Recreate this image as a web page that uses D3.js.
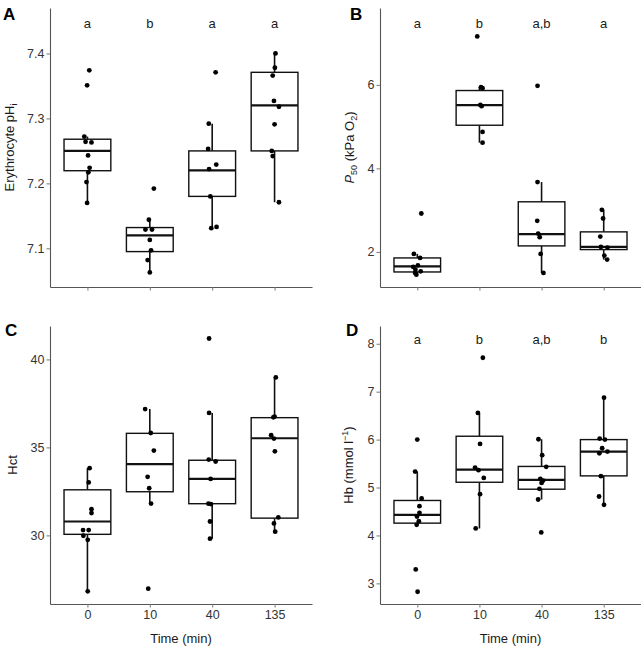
<!DOCTYPE html>
<html>
<head>
<meta charset="utf-8">
<script src="https://cdn.jsdelivr.net/npm/d3@7"></script>
<style>
  body { margin: 0; background: #fff; }
  svg { display: block; }
  text { font-family: "Liberation Sans", Arial, sans-serif; }
</style>
</head>
<body>
<svg id="chart" width="641" height="647"></svg>
<script>
// ---------------- DATA ----------------
const categories = ["0", "10", "40", "135"];

// Panel A: Erythrocyte pHi
const ticksA = [7.1, 7.2, 7.3, 7.4];
const lettersA = ["a", "b", "a", "a"];
const boxA = [ // [whiskerLow, q1, median, q3, whiskerHigh]
  [7.170, 7.2195, 7.250, 7.268, 7.272],
  [7.063, 7.095, 7.120, 7.132, 7.144],
  [7.131, 7.180, 7.220, 7.250, 7.292],
  [7.171, 7.250, 7.320, 7.371, 7.400]
];
const pointsA = [
  [7.374, 7.351, 7.272, 7.264, 7.263, 7.243, 7.224, 7.217, 7.202, 7.170],
  [7.192, 7.144, 7.129, 7.129, 7.113, 7.097, 7.082, 7.063],
  [7.371, 7.292, 7.253, 7.229, 7.222, 7.180, 7.131, 7.133],
  [7.400, 7.378, 7.366, 7.327, 7.318, 7.291, 7.250, 7.242, 7.171]
];
const jitterA = [
  [0.03, -0.005, -0.05, -0.03, 0.065, 0.01, 0.035, 0.015, -0.015, -0.005],
  [0.065, -0.015, -0.07, 0.035, 0, 0.02, -0.035, 0],
  [0.055, -0.055, -0.065, 0.065, -0.05, -0.03, -0.015, 0.07],
  [0.015, 0.005, -0.03, -0.01, 0.07, 0, -0.045, -0.03, 0.07]
];

// Panel B: P50 (kPa O2)
const ticksB = [2, 4, 6];
const lettersB = ["a", "b", "a,b", "a"];
const boxB = [
  [1.456, 1.520, 1.656, 1.856, 1.952],
  [4.616, 5.033, 5.513, 5.864, 5.945],
  [1.496, 2.144, 2.424, 3.200, 3.672],
  [1.816, 2.056, 2.120, 2.480, 3.008]
];
const pointsB = [
  [2.92, 1.952, 1.856, 1.68, 1.64, 1.576, 1.536, 1.496, 1.456],
  [7.16, 5.945, 5.92, 5.52, 5.49, 4.873, 4.616],
  [5.976, 3.672, 2.744, 2.44, 2.352, 1.952, 1.496],
  [3.008, 2.80, 2.368, 2.12, 2.104, 1.912, 1.816]
];
const jitterB = [
  [0.065, -0.055, 0.045, 0.01, -0.065, -0.03, 0.055, -0.035, -0.015],
  [-0.035, 0.025, 0.05, 0.015, 0.035, 0.05, 0.05],
  [-0.065, -0.065, -0.07, -0.055, -0.03, -0.015, 0.03],
  [-0.03, -0.01, -0.055, -0.045, 0.06, 0.01, 0.055]
];

// Panel C: Hct
const ticksC = [30, 35, 40];
const boxC = [
  [26.82, 30.06, 30.79, 32.59, 33.82],
  [31.81, 32.48, 34.05, 35.80, 37.18],
  [29.81, 31.80, 33.21, 34.27, 36.96],
  [30.21, 30.98, 35.52, 36.69, 38.98]
];
const pointsC = [
  [33.82, 33.01, 31.49, 31.27, 30.30, 30.30, 29.98, 29.75, 26.82],
  [37.18, 35.82, 34.82, 33.33, 32.68, 31.81, 26.97],
  [41.19, 36.96, 34.31, 34.20, 33.21, 31.80, 31.78, 30.79, 29.81],
  [38.98, 36.75, 36.71, 35.69, 35.50, 34.78, 31.02, 30.68, 30.21]
];
const jitterC = [
  [0.035, 0.02, 0.065, 0.065, -0.07, 0.02, -0.065, 0.005, 0.005],
  [-0.075, 0.015, 0.065, -0.035, -0.01, 0.02, -0.025],
  [-0.05, -0.05, -0.055, 0.055, -0.025, -0.06, -0.02, -0.035, -0.035],
  [0.02, 0, -0.02, -0.055, -0.01, 0.005, 0.06, -0.01, 0.01]
];

// Panel D: Hb (mmol l-1)
const ticksD = [3, 4, 5, 6, 7, 8];
const lettersD = ["a", "b", "a,b", "b"];
const boxD = [
  [4.222, 4.257, 4.430, 4.730, 5.333],
  [4.146, 5.110, 5.375, 6.070, 6.556],
  [4.750, 4.965, 5.160, 5.440, 6.007],
  [4.639, 5.243, 5.750, 6.000, 6.875]
];
const pointsD = [
  [6.00, 5.333, 4.771, 4.611, 4.472, 4.396, 4.299, 4.222, 3.292, 2.826],
  [7.708, 6.556, 5.91, 5.417, 5.361, 5.201, 4.861, 4.146],
  [6.007, 5.674, 5.431, 5.181, 5.146, 5.097, 4.972, 4.75, 4.063],
  [6.875, 6.021, 6.00, 5.819, 5.75, 5.715, 5.236, 4.813, 4.639]
];
const jitterD = [
  [0, -0.035, 0.07, 0.035, 0.035, -0.005, 0.025, -0.01, -0.025, 0.005],
  [0.055, -0.025, 0.01, -0.07, -0.015, 0.07, 0.01, -0.06],
  [-0.05, 0.01, 0.075, -0.02, 0.025, 0, -0.035, -0.055, -0.005],
  [0.005, -0.065, 0.02, -0.025, 0.06, -0.07, -0.045, -0.075, 0.005]
];

const xTitle = "Time (min)";

// ---------------- DRAWING ----------------
const svg = d3.select("#chart");
const TICK_COL = "#333333";
const AXIS_COL = "#555";

const panels = [
  { tag: "A", x0: 50, x1: 312, y0: 8, y1: 287, domain: [7.0405, 7.47], ticks: ticksA, fmt: d3.format(".1f"),
    box: boxA, pts: pointsA, jit: jitterA, letters: lettersA, letterY: 7.446, xLabels: false,
    tagX: 3, tagY: 20, titleX: 9, title: "A" },
  { tag: "B", x0: 380, x1: 641, y0: 8, y1: 287, domain: [1.16, 7.84], ticks: ticksB, fmt: d3.format("d"),
    box: boxB, pts: pointsB, jit: jitterB, letters: lettersB, letterY: 7.48, xLabels: false,
    tagX: 350, tagY: 19.5, titleX: 349, title: "B" },
  { tag: "C", x0: 50, x1: 312, y0: 326, y1: 604, domain: [26.1, 41.9], ticks: ticksC, fmt: d3.format("d"),
    box: boxC, pts: pointsC, jit: jitterC, letters: null, xLabels: true,
    tagX: 5, tagY: 336, titleX: 12.5, title: "C" },
  { tag: "D", x0: 380, x1: 641, y0: 326, y1: 604, domain: [2.57, 8.37], ticks: ticksD, fmt: d3.format("d"),
    box: boxD, pts: pointsD, jit: jitterD, letters: lettersD, letterY: 8.08, xLabels: true,
    tagX: 346, tagY: 336, titleX: 348, title: "D" }
];

function yTitle(g, tag) {
  if (tag === "A") {
    g.append("tspan").text("Erythrocyte pH");
    g.append("tspan").attr("font-size", "9px").attr("dy", "3").text("i");
  } else if (tag === "B") {
    g.append("tspan").attr("font-style", "italic").text("P");
    g.append("tspan").attr("font-size", "9px").attr("dy", "3").text("50");
    g.append("tspan").attr("dy", "-3").text(" (kPa O");
    g.append("tspan").attr("font-size", "9px").attr("dy", "3").text("2");
    g.append("tspan").attr("dy", "-3").text(")");
  } else if (tag === "C") {
    g.append("tspan").text("Hct");
  } else {
    g.append("tspan").text("Hb (mmol l");
    g.append("tspan").attr("font-size", "9px").attr("dy", "-5").text("\u22121");
    g.append("tspan").attr("dy", "5").text(")");
  }
}

panels.forEach(p => {
  const x = d3.scalePoint().domain(categories).range([p.x0, p.x1]).padding(0.6);
  const y = d3.scaleLinear().domain(p.domain).range([p.y1, p.y0]);
  const bw = x.step() * 0.75;
  const g = svg.append("g");

  // Axes
  const yAxis = d3.axisLeft(y).tickValues(p.ticks).tickFormat(p.fmt).tickSize(3.5).tickSizeOuter(0).tickPadding(2);
  const ya = g.append("g").attr("transform", `translate(${p.x0},0)`).call(yAxis);
  const xAxis = d3.axisBottom(x).tickSize(3.5).tickSizeOuter(0).tickPadding(3);
  if (!p.xLabels) xAxis.tickFormat("");
  const xa = g.append("g").attr("transform", `translate(0,${p.y1})`).call(xAxis);
  [ya, xa].forEach(a => {
    a.select(".domain").attr("stroke", AXIS_COL).attr("stroke-width", 1.1);
    a.selectAll(".tick line").attr("stroke", "#777").attr("stroke-width", 1);
    a.selectAll(".tick text").attr("fill", TICK_COL).attr("font-size", "12.5px")
      .style("font-family", '"Liberation Sans", Arial, sans-serif');
  });

  // Boxplots
  const bg = g.append("g");
  p.box.forEach((b, i) => {
    const cx = x(categories[i]);
    const [lo, q1, med, q3, hi] = b;
    bg.append("line").attr("x1", cx).attr("x2", cx).attr("y1", y(q3)).attr("y2", y(hi))
      .attr("stroke", "#111").attr("stroke-width", 1.6);
    bg.append("line").attr("x1", cx).attr("x2", cx).attr("y1", y(q1)).attr("y2", y(lo))
      .attr("stroke", "#111").attr("stroke-width", 1.6);
    bg.append("rect").attr("x", cx - bw / 2).attr("width", bw)
      .attr("y", y(q3)).attr("height", y(q1) - y(q3))
      .attr("fill", "#fff").attr("stroke", "#111").attr("stroke-width", 1.4);
    bg.append("line").attr("x1", cx - bw / 2).attr("x2", cx + bw / 2).attr("y1", y(med)).attr("y2", y(med))
      .attr("stroke", "#111").attr("stroke-width", 2.2);
  });

  // Points
  p.pts.forEach((arr, i) => {
    arr.forEach((v, j) => {
      g.append("circle")
        .attr("cx", x(categories[i]) + p.jit[i][j] * x.step())
        .attr("cy", y(v)).attr("r", 2.4).attr("fill", "#000");
    });
  });

  // Significance letters
  if (p.letters) {
    p.letters.forEach((l, i) => {
      g.append("text").attr("x", x(categories[i])).attr("y", y(p.letterY))
        .attr("dy", "0.35em").attr("text-anchor", "middle")
        .attr("font-size", "13px").attr("fill", "#1a1a1a").text(l);
    });
  }

  // Y title
  const cy = (p.y0 + p.y1) / 2;
  const t = g.append("text")
    .attr("transform", `translate(${p.titleX},${cy}) rotate(-90)`)
    .attr("text-anchor", "middle").attr("dy", "0.35em")
    .attr("font-size", "13px").attr("fill", "#1a1a1a");
  yTitle(t, p.tag);

  // X title
  if (p.xLabels) {
    g.append("text").attr("x", (p.x0 + p.x1) / 2).attr("y", 642.5)
      .attr("text-anchor", "middle").attr("font-size", "13px").attr("fill", "#1a1a1a").text(xTitle);
  }

  // Panel tag
  g.append("text").attr("x", p.tagX).attr("y", p.tagY)
    .attr("font-size", "17px").attr("font-weight", "bold").attr("fill", "#000").text(p.title);
});
</script>
</body>
</html>
